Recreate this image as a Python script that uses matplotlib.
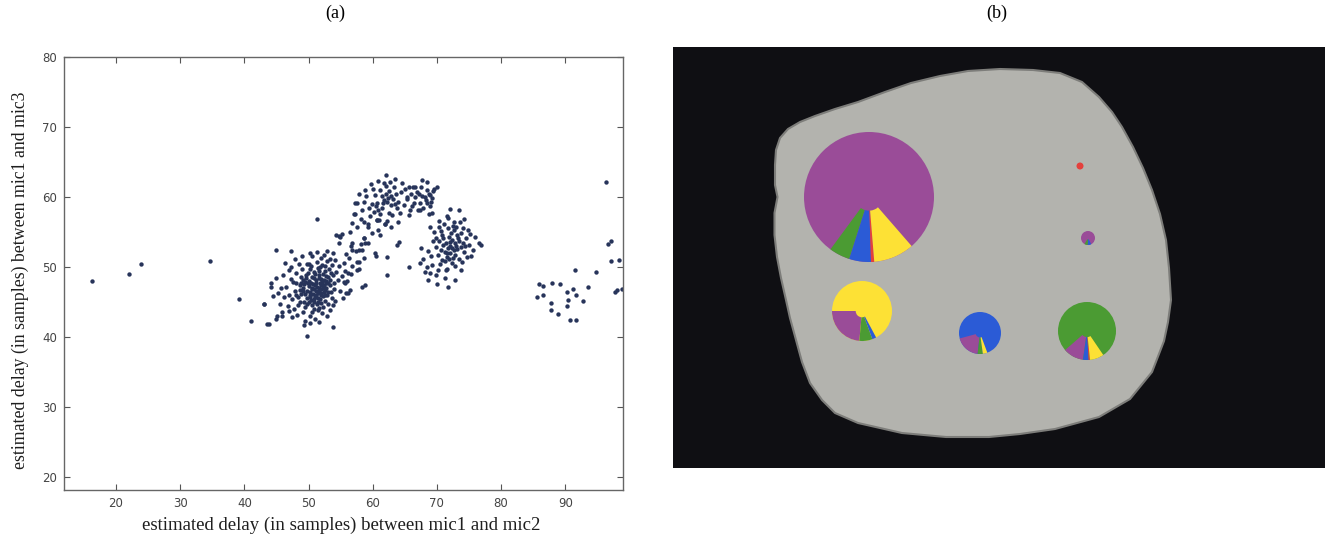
import matplotlib.pyplot as plt
import numpy as np
from matplotlib.patches import Polygon, Circle, Wedge

# ---------------- panel (a): estimated delays ----------------
# points, grouped by cluster (x = mic1/mic2, y = mic1/mic3)
cluster_a = np.array([
    (51.2, 47.8), (51.9, 46.9), (50.6, 47.1), (52.4, 48.2), (51.5, 46.3), (50.1, 48.0), (52.8, 47.0), (51.0, 45.8), (53.1, 48.6), (49.8, 46.6),
    (51.7, 48.9), (50.4, 45.3), (52.2, 45.9), (49.5, 47.9), (53.4, 47.4), (50.9, 49.3), (52.6, 49.5), (48.9, 46.2), (51.3, 44.8), (53.8, 48.9),
    (50.2, 46.0), (52.0, 47.4), (51.6, 47.0), (50.8, 48.5), (49.3, 45.1), (52.9, 46.1), (51.4, 49.9), (48.6, 47.4), (53.5, 46.4), (50.5, 44.6),
    (52.3, 44.3), (49.9, 49.1), (51.8, 45.4), (48.3, 45.8), (54.0, 47.8), (50.0, 47.3), (51.1, 46.6), (52.7, 48.0), (49.6, 48.4), (53.2, 49.7),
    (50.7, 46.2), (51.9, 48.3), (52.5, 46.7), (49.1, 47.0), (50.3, 49.8), (53.9, 46.9), (48.8, 48.6), (51.4, 43.9), (52.1, 50.3), (50.6, 43.6),
    (49.4, 44.3), (53.6, 45.6), (54.3, 49.3), (47.9, 46.6), (51.0, 47.5), (52.0, 46.1), (50.9, 45.1), (49.7, 45.6), (52.4, 47.5), (51.6, 48.5),
    (48.4, 44.6), (47.6, 47.9), (53.0, 44.8), (54.6, 48.2), (50.1, 50.5), (51.3, 50.8), (52.9, 50.9), (49.0, 49.7), (48.1, 49.2), (47.4, 45.4),
    (51.7, 44.2), (50.4, 47.8), (51.2, 46.1), (52.6, 45.2), (53.7, 50.3), (49.2, 46.6), (50.8, 44.1), (52.2, 49.0), (50.0, 45.0), (51.5, 45.0),
    (48.7, 45.0), (47.8, 44.1), (46.9, 46.1), (47.2, 48.3), (46.5, 47.2), (48.0, 47.7), (49.8, 50.5), (51.9, 51.3), (53.3, 51.2), (54.8, 50.1),
    (55.2, 48.8), (54.9, 46.6), (55.6, 47.9), (54.2, 45.2), (53.4, 43.9), (52.1, 43.5), (50.3, 43.0), (49.1, 43.6), (48.2, 43.2), (46.8, 44.5),
    (46.2, 45.8), (45.7, 47.0), (46.0, 48.9), (47.3, 50.0), (48.5, 50.4), (50.6, 51.6), (52.4, 51.8), (54.1, 51.0), (55.7, 49.5), (56.0, 48.1),
    (55.4, 45.6), (51.0, 42.6), (49.5, 42.3), (47.5, 42.9), (45.3, 46.3), (45.0, 48.5), (46.4, 50.6), (47.9, 51.2), (49.0, 51.6), (50.2, 52.0),
    (51.3, 52.1), (52.9, 52.3), (53.8, 52.0), (56.6, 49.0), (56.2, 46.3), (45.6, 44.7), (44.5, 45.9), (44.2, 47.8), (46.9, 49.6), (49.6, 48.9),
    (52.7, 48.8), (53.1, 47.7), (48.1, 46.1), (50.5, 46.9), (51.8, 47.7), (49.3, 47.6), (52.4, 46.4), (53.8, 44.6), (47.0, 43.7), (45.8, 43.6),
    (51.1, 48.2), (50.7, 47.6), (51.6, 46.6), (52.1, 47.9), (50.3, 46.5), (51.9, 46.3), (51.3, 47.2), (50.9, 46.9), (52.3, 47.1), (50.5, 48.6),
    (51.7, 49.4), (52.8, 47.7), (49.9, 47.7), (51.4, 45.6), (50.2, 45.7), (52.6, 46.0), (48.9, 47.8), (53.3, 48.2), (49.5, 46.2), (51.0, 49.0),
    (52.0, 44.9), (50.8, 45.5), (49.7, 44.8), (53.0, 46.5), (48.6, 46.8), (51.8, 50.0), (50.4, 50.1), (52.5, 50.1), (53.5, 49.1), (49.2, 48.2),
    (43.05, 44.8), (43.8, 41.9), (45.0, 52.4), (47.3, 52.25), (44.1, 47.15), (45.1, 43.0), (45.0, 42.6), (45.9, 43.1), (49.7, 40.2), (49.3, 41.7),
    (50.3, 42.1), (51.6, 42.2), (53.8, 41.5), (52.9, 43.1), (58.8, 47.5), (58.7, 51.3), (51.3, 56.9), (57.5, 50.7), (56.1, 49.2), (55.7, 47.8),
    (56.5, 46.8), (55.8, 46.3), (57.9, 49.7), (55.55, 50.6), (56.3, 51.3), (56.7, 50.2),
])

cluster_b = np.array([
    (62.0, 60.5), (62.6, 60.9), (61.5, 60.1), (63.1, 59.8), (62.3, 59.3), (61.1, 61.0), (63.6, 60.5), (62.8, 58.9), (61.8, 59.6), (60.7, 59.2),
    (63.3, 61.4), (62.1, 61.6), (60.4, 60.3), (64.0, 59.3), (61.4, 58.5), (62.9, 60.1), (60.9, 58.1), (63.8, 58.4), (62.5, 57.8), (61.2, 57.6),
    (64.4, 60.8), (59.9, 59.0), (60.2, 57.9), (59.4, 58.4), (64.8, 58.9), (65.3, 59.7), (63.0, 57.4), (64.3, 57.7), (61.7, 62.0), (62.7, 62.1),
    (60.1, 61.1), (59.0, 60.1), (58.6, 59.3), (58.3, 58.2), (59.6, 57.3), (61.0, 56.8), (62.2, 56.6), (63.9, 56.5), (65.8, 58.1), (66.0, 60.5),
    (65.1, 61.2), (63.4, 62.6), (64.5, 62.0), (62.1, 63.1), (60.8, 62.3), (59.8, 61.9), (58.8, 61.0), (57.9, 60.4), (57.5, 59.1), (57.2, 57.6),
    (58.1, 56.9), (59.2, 56.2), (60.6, 56.7), (61.9, 56.2), (65.7, 57.4), (66.6, 60.0), (61.6, 59.1), (62.4, 59.9), (63.5, 59.0), (60.5, 58.7),
    (67.7, 60.2), (68.3, 59.6), (68.8, 60.5), (67.3, 59.1), (68.5, 61.0), (69.1, 59.3), (67.9, 58.5), (66.9, 60.8), (68.2, 60.0), (69.4, 60.9),
    (67.5, 61.5), (68.9, 58.8), (69.2, 59.9), (66.4, 59.2), (67.0, 58.1), (68.4, 59.1), (69.6, 61.2), (70.0, 61.4), (67.7, 62.4), (68.4, 62.1),
    (66.6, 61.5), (65.7, 61.5), (66.3, 61.5), (69.0, 60.3), (67.2, 60.4), (68.7, 57.6), (67.3, 58.1), (69.2, 57.7), (65.4, 60.0), (66.1, 58.7),
])

bridge = np.array([
    (56.4, 55.0), (56.8, 56.3), (54.3, 54.6), (54.9, 54.3), (54.8, 54.5), (55.2, 54.7), (54.8, 53.5), (56.6, 53.0), (57.4, 52.3), (57.8, 52.4),
    (58.1, 53.3), (58.8, 53.4), (58.7, 54.2), (60.3, 52.0), (60.5, 51.6), (60.6, 56.7), (62.8, 55.7), (61.9, 56.2), (64.1, 53.6), (63.8, 53.1),
    (61.2, 54.6), (62.2, 51.5), (62.2, 48.9), (65.7, 50.0), (58.4, 47.2), (57.6, 49.6), (57.8, 50.8), (56.8, 53.4), (56.8, 52.4), (58.7, 54.1),
    (59.3, 53.4), (58.4, 52.4), (59.3, 55.7), (58.7, 56.4), (57.1, 57.6), (57.2, 59.1), (59.9, 54.9), (60.9, 55.3), (57.6, 55.8), (55.9, 51.9),
])

cluster_c = np.array([
    (72.1, 53.0), (72.6, 52.4), (71.7, 52.8), (72.9, 53.4), (72.4, 53.9), (71.4, 53.5), (73.2, 52.6), (72.0, 52.0), (71.2, 52.2), (73.5, 53.8),
    (72.8, 51.8), (71.9, 54.3), (72.5, 51.3), (70.9, 53.1), (73.8, 52.9), (71.6, 51.5), (73.1, 54.6), (72.2, 54.9), (70.6, 52.5), (74.1, 53.5),
    (73.4, 51.2), (71.0, 54.2), (72.7, 55.3), (70.4, 53.7), (74.3, 52.2), (71.3, 50.9), (72.4, 50.6), (73.7, 54.9), (70.2, 51.8), (74.6, 54.1),
    (71.8, 55.6), (73.0, 55.8), (70.7, 55.1), (74.0, 55.6), (75.0, 53.1), (69.8, 52.9), (69.9, 54.2), (71.1, 56.2), (72.6, 56.5), (73.6, 56.4),
    (74.9, 55.3), (75.2, 54.8), (76.5, 53.4), (76.8, 53.1), (75.6, 52.4), (74.7, 51.5), (73.9, 50.7), (72.9, 50.1), (71.5, 49.8), (70.5, 50.4),
    (69.5, 55.0), (70.4, 55.7), (71.6, 57.3), (71.8, 57.0), (73.4, 58.1), (69.1, 51.6), (68.6, 52.3), (67.6, 52.7), (67.9, 51.2), (67.3, 50.6),
    (68.4, 50.0), (68.9, 49.1), (68.6, 48.2), (69.8, 48.9), (70.1, 49.6), (71.4, 49.6), (71.7, 47.2), (72.9, 48.2), (70.8, 51.0), (69.3, 50.3),
    (72.3, 52.8), (71.5, 52.0), (73.0, 53.0), (72.0, 53.6), (71.9, 51.2), (73.3, 54.1), (70.8, 54.6), (74.4, 53.0), (72.5, 55.9), (69.4, 53.7),
    (75.9, 54.3), (74.2, 56.9), (70.3, 56.6), (68.9, 55.8), (72.1, 58.3), (75.3, 51.6), (73.7, 49.6), (70.0, 47.6), (71.2, 48.4), (68.2, 49.3),
])

outliers = np.array([
    (16.3, 48.0), (22.1, 49.0), (23.9, 50.4), (34.6, 50.9), (39.1, 45.4), (40.96, 42.3), (43.6, 41.9), (43.0, 44.7),
    (96.4, 62.2), (96.6, 53.3), (97.1, 53.7), (97.1, 50.9), (98.3, 51.0), (91.5, 49.6), (94.8, 49.3), (85.9, 47.6),
    (86.5, 47.3), (88.0, 47.7), (89.2, 47.6), (91.2, 46.9), (90.2, 46.4), (93.6, 47.2), (97.7, 46.5), (98.1, 46.7),
    (98.9, 46.9), (85.65, 45.7), (86.5, 46.0), (91.7, 46.1), (90.4, 45.3), (92.8, 45.2), (87.8, 44.9), (90.3, 44.5),
    (87.8, 43.9), (88.9, 43.3), (90.8, 42.4), (91.7, 42.5),
])

x_ticks = [20, 30, 40, 50, 60, 70, 80, 90]
y_ticks = [20, 30, 40, 50, 60, 70, 80]

# ---------------- panel (b): source map ----------------
# outline of the grey region (image pixels)
blob_x = [776, 780, 788, 800, 815, 835, 858, 885, 911, 940, 968, 1000, 1033, 1060, 1082, 1099, 1112, 1122, 1133,
          1143, 1152, 1160, 1166, 1169, 1171, 1168, 1164, 1152, 1130, 1099, 1055, 1020, 989, 946, 902, 858,
          835, 822, 810, 802, 796, 790, 786, 781, 777, 774.5, 774.5, 777.5, 775, 775]
blob_y = [150, 138, 129, 122, 116, 109, 102, 92, 83, 76, 71, 69, 70, 73, 82, 97, 112, 127, 147,
          168, 190, 214, 240, 268, 300, 322, 341, 372, 399, 417, 429, 434, 437, 437, 433, 423,
          413, 400, 383, 362, 340, 318, 300, 278, 257, 235, 213, 197, 185, 165]

pie_x = [869, 862, 980, 1087, 1088, 1080]
pie_y = [197, 311, 333, 331, 238, 166]
pie_r = [65, 30, 21, 29, 7, 3.5]
pie_main = ['purple', 'yellow', 'blue', 'green', 'purple', 'red']
pie_start = [233.6, 180, 195, 221, 240, 0]
pie_parts = [
    [('green', 0.052), ('blue', 0.054), ('red', 0.008), ('yellow', 0.101)],
    [('purple', 0.236), ('green', 0.07), ('blue', 0.022)],
    [('purple', 0.19), ('green', 0.04), ('yellow', 0.035)],
    [('purple', 0.114), ('blue', 0.031), ('red', 0.008), ('yellow', 0.078)],
    [('green', 0.08), ('blue', 0.08)],
    [],
]
colores = {'purple': '#9a4c98', 'green': '#4b9b33', 'blue': '#2b5bd6',
           'yellow': '#fde135', 'red': '#e4403c'}

W, H = 1325, 535
fig = plt.figure(figsize=(W / 100, H / 100), dpi=100)

# panel (a)
ax = fig.add_axes([64 / W, 45 / H, 559 / W, 433 / H])
puntos = np.vstack([cluster_a, cluster_b, bridge, cluster_c, outliers])
ax.scatter(puntos[:, 0], puntos[:, 1], s=10, c='#27345a', linewidths=0)
ax.set_xlim(11.9, 99.0)
ax.set_ylim(18.2, 80)
ax.set_xticks(x_ticks)
ax.set_yticks(y_ticks)
ax.tick_params(direction='in', top=True, right=True, length=4, width=0.8,
               labelsize=8.5, color='#555555', labelcolor='#444444', pad=5)
for s in ax.spines.values():
    s.set_color('#666666')
    s.set_linewidth(1.0)

fig.text(341 / W, 1 - 525 / H, 'estimated delay (in samples) between mic1 and mic2',
         family='Liberation Serif', fontsize=13.5, ha='center', va='center', color='#1e1e1e')
fig.text(20 / W, 1 - 280 / H, 'estimated delay (in samples) between mic1 and mic3',
         family='Liberation Serif', fontsize=12.8, ha='center', va='center', rotation=90, color='#1e1e1e')
fig.text(335 / W, 1 - 13 / H, '(a)', family='Liberation Serif', fontsize=13, ha='center', va='center')
fig.text(997 / W, 1 - 13 / H, '(b)', family='Liberation Serif', fontsize=13, ha='center', va='center')

# panel (b)
bx = fig.add_axes([673 / W, 67 / H, 652 / W, 421 / H])
bx.set_facecolor('#0f0f13')
bx.set_xlim(673, 1325)
bx.set_ylim(468, 47)
bx.set_xticks([])
bx.set_yticks([])
for s in bx.spines.values():
    s.set_visible(False)

bx.add_patch(Polygon(np.column_stack([blob_x, blob_y]), closed=True,
                     facecolor='#b3b3ae', edgecolor='#7d7d7a', linewidth=1.5))

for cx, cy, r, main, start, parts in zip(pie_x, pie_y, pie_r, pie_main, pie_start, pie_parts):
    bx.add_patch(Circle((cx, cy), r, facecolor=colores[main], edgecolor='none'))
    ang = start
    for nombre, frac in parts:
        fin = ang + frac * 360
        # the image's y axis points down, so angles are mirrored
        bx.add_patch(Wedge((cx, cy), r, -fin, -ang, width=r * 0.79,
                           facecolor=colores[nombre], edgecolor='none'))
        ang = fin

fig.savefig('out.png', dpi=100)
